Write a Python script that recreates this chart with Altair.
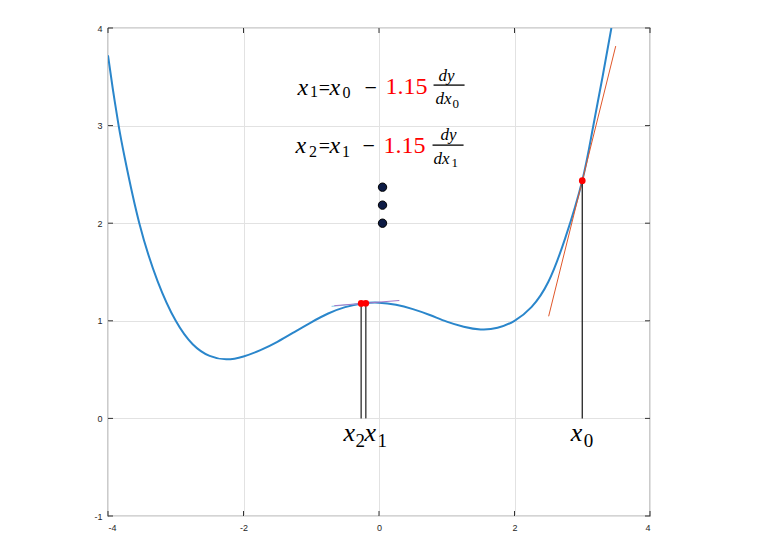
import altair as alt
import pandas as pd

# ---- data ----
curve_x = [-4.0, -3.93, -3.843, -3.75, -3.538, -3.267, -3.0, -2.75, -2.5, -2.25, -2.0, -1.75, -1.5,
           -1.25, -1.0, -0.75, -0.5, -0.25, 0.0, 0.25, 0.5, 0.75, 1.0, 1.25, 1.5, 1.75,
           2.0, 2.25, 2.5, 2.75, 3.0, 3.15, 3.3, 3.43]
curve_y = [3.72, 3.38, 3.0, 2.66, 2.0, 1.405, 1.0, 0.76, 0.64, 0.605, 0.635, 0.70, 0.785,
           0.885, 0.985, 1.075, 1.14, 1.178, 1.186, 1.165, 1.12, 1.06, 0.992, 0.94, 0.912, 0.928,
           1.0, 1.14, 1.40, 1.85, 2.436, 2.95, 3.5, 4.0]

tangent_x = [2.504, 3.494]
tangent_y = [1.046, 3.815]

tan1_x = [-0.66, 0.30]     # purple short tangent
tan1_y = [1.155, 1.208]
tan2_x = [-0.70, -0.20]    # cyan short tangent
tan2_y = [1.148, 1.182]

iter_x = [3.0, -0.195, -0.263]      # x0, x1, x2
iter_y = [2.436, 1.18, 1.178]

dots_x = [0.052, 0.052, 0.052]
dots_y = [2.369, 2.185, 2.0]

x_ticks = [-4, -2, 0, 2, 4]
y_ticks = [-1, 0, 1, 2, 3, 4]

W, H = 542, 488

# annotation pieces: text, x, y, size, colour, italic
pieces = [
    # line 1
    ("x", -1.204, 3.313, 24, "black", True),
    ("1", -1.020, 3.292, 16, "black", False),
    ("=", -0.890, 3.313, 20, "black", False),
    ("x", -0.730, 3.313, 24, "black", True),
    ("0", -0.540, 3.287, 16, "black", False),
    ("\u2212", -0.214, 3.313, 22, "black", False),
    ("1.15", 0.096, 3.323, 24, "red", False),
    ("dy", 0.879, 3.462, 17, "black", True),
    ("dx", 0.835, 3.221, 17, "black", True),
    ("0", 1.085, 3.179, 13, "black", False),
    # line 2
    ("x", -1.233, 2.718, 24, "black", True),
    ("2", -1.035, 2.677, 16, "black", False),
    ("=", -0.890, 2.718, 20, "black", False),
    ("x", -0.730, 2.718, 24, "black", True),
    ("1", -0.545, 2.677, 16, "black", False),
    ("\u2212", -0.244, 2.718, 22, "black", False),
    ("1.15", 0.066, 2.718, 24, "red", False),
    ("dy", 0.908, 2.851, 17, "black", True),
    ("dx", 0.805, 2.605, 17, "black", True),
    ("1", 1.070, 2.574, 13, "black", False),
    # bottom labels
    ("x", -0.524, -0.236, 26, "black", True),
    ("2", -0.347, -0.297, 19, "black", False),
    ("x", -0.214, -0.236, 26, "black", True),
    ("1", -0.022, -0.297, 19, "black", False),
    ("x", 2.829, -0.236, 26, "black", True),
    ("0", 3.021, -0.297, 19, "black", False),
]

bars = pd.DataFrame({"x": [0.805, 0.790], "x2": [1.263, 1.248], "y": [3.415, 2.800]})

# ---- build ----
xs = alt.Scale(domain=[-4, 4], nice=False, zero=False)
ys = alt.Scale(domain=[-1, 4], nice=False, zero=False)
xaxis = alt.Axis(values=x_ticks, labelExpr="'' + datum.value", grid=True, ticks=False,
                 domain=False, labelFontSize=9, labelColor="#262626", labelPadding=7,
                 labelFont="Liberation Sans", gridColor="#e2e2e2", title=None)
yaxis = alt.Axis(values=y_ticks, labelExpr="'' + datum.value", grid=True, ticks=False,
                 domain=False, labelFontSize=9, labelColor="#262626", labelPadding=6,
                 labelFont="Liberation Sans", gridColor="#e2e2e2", title=None)

def X(f="x"):
    return alt.X(f + ":Q", scale=xs, axis=xaxis, title=None)

def Y(f="y"):
    return alt.Y(f + ":Q", scale=ys, axis=yaxis, title=None)

curve_df = pd.DataFrame({"x": curve_x, "y": curve_y, "o": range(len(curve_x))})
curve = alt.Chart(curve_df).mark_line(color="#2a86cb", strokeWidth=2, interpolate="natural",
                                      clip=True).encode(x=X(), y=Y(), order="o:Q")

tangent = alt.Chart(pd.DataFrame({"x": tangent_x, "y": tangent_y})).mark_line(
    color="#e0572a", strokeWidth=1).encode(x=X(), y=Y())
tan1 = alt.Chart(pd.DataFrame({"x": tan1_x, "y": tan1_y})).mark_line(
    color="#a678c8", strokeWidth=1).encode(x=X(), y=Y())
tan2 = alt.Chart(pd.DataFrame({"x": tan2_x, "y": tan2_y})).mark_line(
    color="#7fcbe8", strokeWidth=1).encode(x=X(), y=Y())

iter_df = pd.DataFrame({"x": iter_x, "y": iter_y, "y0": [0, 0, 0],
                        "c": ["#111111", "#555555", "#555555"],
                        "w": [1.2, 1.6, 1.6]})
vlines = alt.Chart(iter_df).mark_rule().encode(
    x=X(), y=alt.Y("y0:Q", scale=ys, axis=yaxis, title=None), y2="y:Q",
    color=alt.Color("c:N", scale=None), strokeWidth=alt.StrokeWidth("w:Q", scale=None))
rpoints = alt.Chart(iter_df).mark_circle(color="red", size=45, opacity=1).encode(x=X(), y=Y())

dots = alt.Chart(pd.DataFrame({"x": dots_x, "y": dots_y})).mark_point(
    filled=True, fill="#0d1b45", stroke="black", strokeWidth=1, size=70, opacity=1,
    shape="circle").encode(x=X(), y=Y())

pdf = pd.DataFrame(pieces, columns=["t", "x", "y", "s", "c", "it"])
txt_it = alt.Chart(pdf[pdf.it]).mark_text(align="left", baseline="alphabetic",
                                          font="Liberation Serif", fontStyle="italic").encode(
    x=X(), y=Y(), text="t:N", size=alt.Size("s:Q", scale=None), color=alt.Color("c:N", scale=None))
txt_up = alt.Chart(pdf[~pdf.it]).mark_text(align="left", baseline="alphabetic",
                                           font="Liberation Serif").encode(
    x=X(), y=Y(), text="t:N", size=alt.Size("s:Q", scale=None), color=alt.Color("c:N", scale=None))

fbars = alt.Chart(bars).mark_rule(color="black", strokeWidth=1.3).encode(x=X(), x2="x2:Q", y=Y())

# inward tick marks on all four sides
xt = pd.DataFrame({"x": x_ticks})
yt = pd.DataFrame({"y": y_ticks})
tick_b = alt.Chart(xt).mark_rule(color="#333", strokeWidth=1).encode(
    x=X(), y=alt.value(H), y2=alt.value(H - 5))
tick_t = alt.Chart(xt).mark_rule(color="#333", strokeWidth=1).encode(
    x=X(), y=alt.value(0), y2=alt.value(5))
tick_l = alt.Chart(yt).mark_rule(color="#333", strokeWidth=1).encode(
    y=Y(), x=alt.value(0), x2=alt.value(5))
tick_r = alt.Chart(yt).mark_rule(color="#333", strokeWidth=1).encode(
    y=Y(), x=alt.value(W), x2=alt.value(W - 5))

chart = alt.layer(curve, tangent, tan2, tan1, vlines, rpoints, dots, txt_it, txt_up, fbars,
                  tick_b, tick_t, tick_l, tick_r).properties(
    width=W, height=H, autosize=alt.AutoSizeParams(type="none"),
    padding={"left": 100, "top": 20, "right": 100, "bottom": 24},
    background="white",
).configure_view(stroke="#555555", strokeWidth=1.2)

chart.save("out.html", embed_options={"renderer": "svg", "actions": False})
